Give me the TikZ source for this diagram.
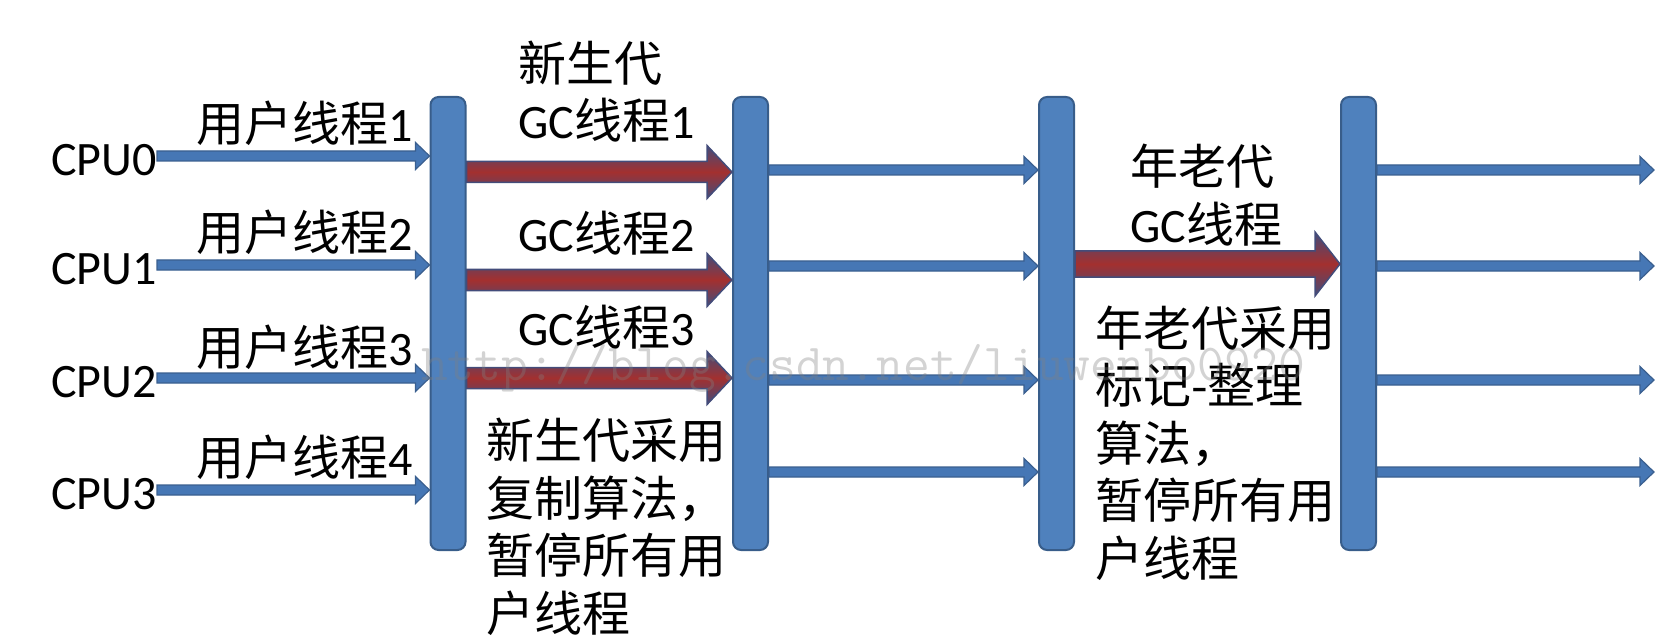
\documentclass[tikz,border=0pt]{standalone}
\usepackage{fontspec}
\setmainfont{Carlito}
\newfontfamily\cjk{Noto Sans CJK SC}
\usetikzlibrary{calc}
\definecolor{barfill}{HTML}{4F81BD}
\definecolor{barline}{HTML}{385D8A}
\definecolor{thinfill}{HTML}{4677B5}
\definecolor{thinline}{HTML}{3A5F8F}
\definecolor{redmid}{HTML}{A3302F}
\definecolor{rededge}{HTML}{434C7A}
% block arrow: style, from, to, half shaft, half head, head length
\newcommand\blockarrow[6]{%
  \path[#1] let \p1=(#2), \p2=(#3) in
  (\x1,\y1+#4) -- (\x2-#6,\y1+#4) -- (\x2-#6,\y1+#5) -- (\x2,\y1)
  -- (\x2-#6,\y1-#5) -- (\x2-#6,\y1-#4) -- (\x1,\y1-#4) -- cycle;}
\tikzset{
  bar/.style={draw=barline, line width=2pt, fill=barfill, rounded corners=8pt,
    minimum width=35pt, minimum height=453pt, inner sep=0pt},
  thinarrow/.style={fill=thinfill, draw=thinline, line width=1.2pt},
  gcarrow/.style={draw=rededge, line width=1.5pt, top color=rededge,
    bottom color=rededge, middle color=redmid},
  txt/.style={inner sep=0pt, font=\fontsize{48}{57.5}\selectfont},
  wmark/.style={inner sep=0pt, text=gray, opacity=0.35,
    font=\ttfamily\fontsize{52}{52}\selectfont}
}
\begin{document}
\begin{tikzpicture}[x=1pt,y=-1pt]
\useasboundingbox (0,0) rectangle (1672,644);
% bars
\node[bar] (b1) at (448,323.5) {};
\node[bar] (b2) at (750.5,323.5) {};
\node[bar] (b3) at (1056.5,323.5) {};
\node[bar] (b4) at (1358.5,323.5) {};
% rows
\coordinate (u0) at (0,156);
\coordinate (u1) at (0,265);
\coordinate (u2) at (0,378);
\coordinate (u3) at (0,490);
\coordinate (g0) at (0,172);
\coordinate (g1) at (0,280);
\coordinate (g2) at (0,378);
\coordinate (m0) at (0,170);
\coordinate (m1) at (0,266);
\coordinate (m2) at (0,380);
\coordinate (m3) at (0,472);
\coordinate (o1) at (0,264);
\coordinate (e0) at (1654,170);
\coordinate (e1) at (1654,266);
\coordinate (e2) at (1654,380);
\coordinate (e3) at (1654,472);
% CPU labels
\node[txt, anchor=east] (cpu0) at (157,160) {CPU0};
\node[txt, anchor=east] (cpu1) at (157,269) {CPU1};
\node[txt, anchor=east] (cpu2) at (157,382) {CPU2};
\node[txt, anchor=east] (cpu3) at (157,494) {CPU3};
% user thread labels
\node[txt, anchor=east] (ut0) at (413,123) {{\cjk 用户线程}1};
\node[txt, anchor=east] (ut1) at (413,232) {{\cjk 用户线程}2};
\node[txt, anchor=east] (ut2) at (413,347) {{\cjk 用户线程}3};
\node[txt, anchor=east] (ut3) at (413,457) {{\cjk 用户线程}4};
% young GC labels
\node[txt, anchor=west, align=left] (ynghd) at (518,91.5) {{\cjk 新生代}\\GC{\cjk 线程}1};
\node[txt, anchor=west] (gc2) at (518,233) {GC{\cjk 线程}2};
\node[txt, anchor=west] (gc3) at (518,327) {GC{\cjk 线程}3};
\node[txt, anchor=west, align=left] (ynote) at (486,527)
  {{\cjk 新生代采用}\\{\cjk 复制算法，}\\{\cjk 暂停所有用}\\{\cjk 户线程}};
% old GC labels
\node[txt, anchor=west, align=left] (oldhd) at (1130,195) {{\cjk 年老代}\\GC{\cjk 线程}};
\node[txt, anchor=west, align=left] (onote) at (1095,443)
  {{\cjk 年老代采用}\\{\cjk 标记-整理}\\{\cjk 算法，}\\{\cjk 暂停所有用}\\{\cjk 户线程}};
% user thread arrows
\blockarrow{thinarrow}{cpu0.east |- u0}{b1.west |- u0}{5pt}{13.5pt}{14pt}
\blockarrow{thinarrow}{cpu1.east |- u1}{b1.west |- u1}{5pt}{13.5pt}{14pt}
\blockarrow{thinarrow}{cpu2.east |- u2}{b1.west |- u2}{5pt}{13.5pt}{14pt}
\blockarrow{thinarrow}{cpu3.east |- u3}{b1.west |- u3}{5pt}{13.5pt}{14pt}
% young GC arrows
\blockarrow{gcarrow}{b1.east |- g0}{b2.west |- g0}{10.5pt}{26.5pt}{25pt}
\blockarrow{gcarrow}{b1.east |- g1}{b2.west |- g1}{10.5pt}{26.5pt}{25pt}
\blockarrow{gcarrow}{b1.east |- g2}{b2.west |- g2}{10.5pt}{26.5pt}{25pt}
% user threads resumed
\blockarrow{thinarrow}{b2.east |- m0}{b3.west |- m0}{5pt}{13.5pt}{14pt}
\blockarrow{thinarrow}{b2.east |- m1}{b3.west |- m1}{5pt}{13.5pt}{14pt}
\blockarrow{thinarrow}{b2.east |- m2}{b3.west |- m2}{5pt}{13.5pt}{14pt}
\blockarrow{thinarrow}{b2.east |- m3}{b3.west |- m3}{5pt}{13.5pt}{14pt}
% old GC arrow
\blockarrow{gcarrow}{b3.east |- o1}{b4.west |- o1}{13pt}{32pt}{25pt}
% final arrows
\blockarrow{thinarrow}{b4.east |- e0}{e0}{5pt}{13.5pt}{14pt}
\blockarrow{thinarrow}{b4.east |- e1}{e1}{5pt}{13.5pt}{14pt}
\blockarrow{thinarrow}{b4.east |- e2}{e2}{5pt}{13.5pt}{14pt}
\blockarrow{thinarrow}{b4.east |- e3}{e3}{5pt}{13.5pt}{14pt}
% watermark
\node[wmark, anchor=west] (wm) at (421,368) {http://blog.csdn.net/liuwenbo0920};
\end{tikzpicture}
\end{document}
